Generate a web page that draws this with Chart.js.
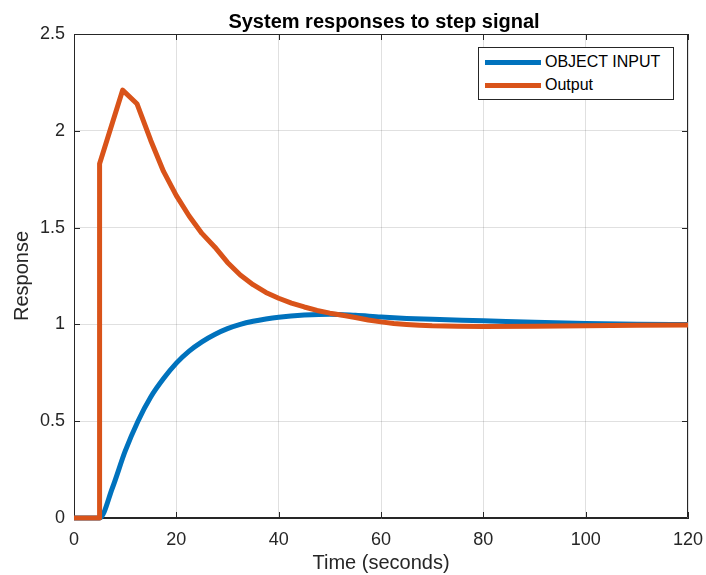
<!DOCTYPE html>
<html>
<head>
<meta charset="utf-8">
<title>System responses to step signal</title>
<script src="https://cdn.jsdelivr.net/npm/chart.js@4.4.0/dist/chart.umd.min.js"></script>
<style>
  body { margin: 0; background: #fff; }
  #wrap { position: relative; width: 706px; height: 575px; }
  #myChart { position: absolute; left: 0; top: 0; }
  #legend {
    position: absolute; left: 478px; top: 47px; width: 196px; height: 53px;
    box-sizing: border-box; border: 1px solid #262626; background: #fff;
    font: 16px 'Liberation Sans', Arial, sans-serif; color: #000;
  }
  #legend .item { position: absolute; left: 6px; height: 20px; display: flex; align-items: center; white-space: nowrap; }
  #legend .swatch { width: 56px; height: 5px; margin-right: 4px; }
</style>
</head>
<body>
<div id="wrap">
  <canvas id="myChart" width="706" height="575"></canvas>
  <div id="legend"></div>
</div>
<script>
// chart texts
const chartTitle = 'System responses to step signal';
const xTitle = 'Time (seconds)';
const yTitle = 'Response';

// tick values
const xTicks = [0, 20, 40, 60, 80, 100, 120];
const yTicks = [0, 0.5, 1, 1.5, 2, 2.5];

// series names
const seriesNames = ['OBJECT INPUT', 'Output'];

// OBJECT INPUT
const timeInput = [0, 5, 7.5, 10, 12.5, 15, 17.5, 20, 22.5, 25, 27.5, 30, 32.5, 35, 37.5, 40, 45, 50, 55, 60, 65, 70, 80, 90, 100, 110, 120];
const objectInput = [0, 0, 0.155, 0.345, 0.5, 0.625, 0.72, 0.8, 0.862, 0.91, 0.948, 0.978, 1.0, 1.016, 1.028, 1.037, 1.048, 1.053, 1.047, 1.038, 1.031, 1.026, 1.019, 1.011, 1.005, 1.001, 0.999];

// Output
const timeOutput = [0, 5, 5, 9.5, 12.3, 15, 17.5, 20, 22.5, 25, 27.5, 30, 32.5, 35, 37.5, 40, 42.5, 45, 47.5, 50, 52.5, 55, 57.5, 60, 62.5, 65, 67.5, 70, 75, 80, 90, 100, 110, 120];
const outputValues = [0, 0, 1.83, 2.21, 2.14, 1.95, 1.79, 1.665, 1.56, 1.47, 1.4, 1.32, 1.255, 1.205, 1.165, 1.135, 1.11, 1.09, 1.072, 1.058, 1.047, 1.036, 1.023, 1.013, 1.005, 1.0, 0.996, 0.993, 0.99, 0.989, 0.99, 0.993, 0.996, 0.997];

const colors = ['rgb(0, 114, 189)', 'rgb(217, 83, 25)'];
const axisColor = '#262626';
const fontFamily = "'Liberation Sans', Arial, sans-serif";

function toPoints(xs, ys) {
    return xs.map((t, i) => ({ x: t, y: ys[i] }));
}

// box, inner ticks and title like matlab
const matlabAxes = {
    id: 'matlabAxes',
    beforeDatasetsDraw(chart) {
        const { ctx, chartArea: a, scales: { x, y } } = chart;
        ctx.save();
        ctx.strokeStyle = axisColor;
        ctx.lineWidth = 1;
        ctx.beginPath();
        x.ticks.forEach(t => {
            const px = Math.round(x.getPixelForValue(t.value)) + 0.5;
            ctx.moveTo(px, a.bottom); ctx.lineTo(px, a.bottom - 6);
            ctx.moveTo(px, a.top); ctx.lineTo(px, a.top + 6);
        });
        y.ticks.forEach(t => {
            const py = Math.round(y.getPixelForValue(t.value)) + 0.5;
            ctx.moveTo(a.left, py); ctx.lineTo(a.left + 6, py);
            ctx.moveTo(a.right, py); ctx.lineTo(a.right - 6, py);
        });
        ctx.rect(a.left + 0.5, a.top + 0.5, a.right - a.left - 1, a.bottom - a.top - 1);
        ctx.stroke();

        ctx.fillStyle = '#000';
        ctx.font = 'bold 20px ' + fontFamily;
        ctx.textAlign = 'center';
        ctx.textBaseline = 'alphabetic';
        ctx.fillText(chartTitle, (a.left + a.right) / 2 + 3, 28);
        ctx.restore();
    }
};

var ctx = document.getElementById('myChart').getContext('2d');
var chart = new Chart(ctx, {
    type: 'line',
    data: {
        datasets: [{
            label: seriesNames[0],
            data: toPoints(timeInput, objectInput),
            borderColor: colors[0],
            backgroundColor: colors[0],
            borderWidth: 5,
            cubicInterpolationMode: 'monotone',
            fill: false,
            clip: 8,
            order: 2
        }, {
            label: seriesNames[1],
            data: toPoints(timeOutput, outputValues),
            borderColor: colors[1],
            backgroundColor: colors[1],
            borderWidth: 5,
            tension: 0,
            borderJoinStyle: 'round',
            fill: false,
            clip: 8,
            order: 1
        }]
    },
    options: {
        responsive: false,
        animation: false,
        devicePixelRatio: 1,
        layout: { padding: { top: 34, right: 18, left: 0, bottom: 0 } },
        elements: { point: { radius: 0 } },
        plugins: {
            legend: { display: false },
            title: { display: false },
            tooltip: { enabled: false }
        },
        scales: {
            x: {
                type: 'linear',
                min: 0,
                max: 120,
                afterBuildTicks: s => { s.ticks = xTicks.map(v => ({ value: v })); },
                afterFit: s => { s.height = 57; s.paddingLeft = 0; s.paddingRight = 0; },
                grid: { color: 'rgba(38,38,38,0.14)', drawTicks: false },
                border: { color: axisColor },
                ticks: { color: axisColor, padding: 11, maxRotation: 0, font: { family: fontFamily, size: 18 } },
                title: { display: true, text: xTitle, color: axisColor, padding: 0, font: { family: fontFamily, size: 20 } }
            },
            y: {
                min: 0,
                max: 2.5,
                afterBuildTicks: s => { s.ticks = yTicks.map(v => ({ value: v })); },
                afterFit: s => { s.width = 74; s.paddingTop = 0; s.paddingBottom = 0; },
                grid: { color: 'rgba(38,38,38,0.14)', drawTicks: false },
                border: { color: axisColor },
                ticks: { color: axisColor, padding: 9, callback: v => String(v), font: { family: fontFamily, size: 18 } },
                title: { display: true, text: yTitle, color: axisColor, padding: { top: 10, bottom: 0 }, font: { family: fontFamily, size: 20 } }
            }
        }
    },
    plugins: [matlabAxes]
});

// legend box inside the axes
var legend = document.getElementById('legend');
chart.data.datasets.forEach((ds, i) => {
    var item = document.createElement('div');
    item.className = 'item';
    item.style.top = (4 + i * 23) + 'px';
    var sw = document.createElement('span');
    sw.className = 'swatch';
    sw.style.background = ds.borderColor;
    item.appendChild(sw);
    item.appendChild(document.createTextNode(ds.label));
    legend.appendChild(item);
});
</script>
</body>
</html>
